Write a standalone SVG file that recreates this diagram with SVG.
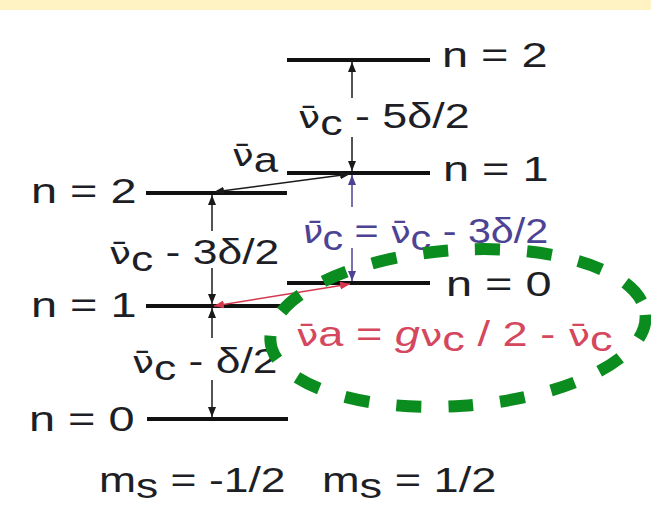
<svg xmlns="http://www.w3.org/2000/svg" width="651" height="523" viewBox="0 0 651 523">
<style>
  text { font-family: "Liberation Sans", Arial, sans-serif; font-size: 35px; fill: #1e1f26; }
  .nu { font-family: "DejaVu Sans", "Liberation Sans", sans-serif; font-size: 31px; }
  .purple { fill: #4d4394; }
  .red { fill: #d4475d; }
  .level { stroke: #111; stroke-width: 4; fill: none; }
  .arr { stroke: #1a1a1a; stroke-width: 1.5; fill: none; }
  .arrP { stroke: #4d4394; stroke-width: 1.5; fill: none; }
  .arrR { stroke: #d4384e; stroke-width: 1.5; fill: none; }
</style>
<defs>
  <marker id="ah" viewBox="0 0 10 8" refX="10" refY="4" markerWidth="10" markerHeight="8" markerUnits="userSpaceOnUse" orient="auto-start-reverse">
    <path d="M0,0 L10,4 L0,8 Z" fill="#1a1a1a"/>
  </marker>
  <marker id="ahP" viewBox="0 0 10 8" refX="10" refY="4" markerWidth="10" markerHeight="8" markerUnits="userSpaceOnUse" orient="auto-start-reverse">
    <path d="M0,0 L10,4 L0,8 Z" fill="#4d4394"/>
  </marker>
  <marker id="ahR" viewBox="0 0 10 8" refX="10" refY="4" markerWidth="10" markerHeight="8" markerUnits="userSpaceOnUse" orient="auto-start-reverse">
    <path d="M0,0 L10,4 L0,8 Z" fill="#d4384e"/>
  </marker>
</defs>
<rect x="0" y="0" width="651" height="523" fill="#ffffff"/>
<rect x="0" y="0" width="651" height="10" fill="#fff3c4"/>

<!-- right column levels (ms = 1/2) -->
<g id="right-n2">
  <line class="level" x1="287" y1="60" x2="430" y2="60"/>
  <text transform="translate(442,67) scale(1.34,1)">n = 2</text>
</g>
<g id="right-n1">
  <line class="level" x1="287" y1="173" x2="430" y2="173"/>
  <text transform="translate(443,181) scale(1.34,1)">n = 1</text>
</g>
<g id="right-n0">
  <line class="level" x1="287" y1="283" x2="430" y2="283"/>
  <text transform="translate(446,296) scale(1.34,1)">n = 0</text>
</g>

<!-- left column levels (ms = -1/2) -->
<g id="left-n2">
  <line class="level" x1="146" y1="193" x2="287" y2="193"/>
  <text transform="translate(31,203) scale(1.34,1)">n = 2</text>
</g>
<g id="left-n1">
  <line class="level" x1="146" y1="306" x2="287" y2="306"/>
  <text transform="translate(31,317) scale(1.34,1)">n = 1</text>
</g>
<g id="left-n0">
  <line class="level" x1="147" y1="419" x2="288" y2="419"/>
  <text transform="translate(29,431) scale(1.34,1)">n = 0</text>
</g>

<!-- connectors -->
<g id="connectors">
  <line class="arr" x1="352" y1="98" x2="352" y2="62" marker-end="url(#ah)"/>
  <line class="arr" x1="352" y1="137" x2="352" y2="171" marker-end="url(#ah)"/>
  <line class="arrP" x1="352" y1="207" x2="352" y2="175" marker-end="url(#ahP)"/>
  <line class="arrP" x1="352" y1="248" x2="352" y2="281" marker-end="url(#ahP)"/>
  <line class="arr" x1="212" y1="231" x2="212" y2="195" marker-end="url(#ah)"/>
  <line class="arr" x1="212" y1="268" x2="212" y2="304" marker-end="url(#ah)"/>
  <line class="arr" x1="212" y1="338" x2="212" y2="308" marker-end="url(#ah)"/>
  <line class="arr" x1="212" y1="380" x2="212" y2="417" marker-end="url(#ah)"/>
  <line class="arr" x1="214" y1="192" x2="350" y2="174" marker-start="url(#ah)" marker-end="url(#ah)"/>
  <line class="arrR" x1="214" y1="306" x2="350" y2="284" marker-start="url(#ahR)" marker-end="url(#ahR)"/>
</g>

<!-- transition labels -->
<g id="label-5d">
  <text transform="translate(298,128) scale(1.28,1)"><tspan class="nu">ν̄</tspan><tspan dy="7">c</tspan><tspan dy="-7"> - 5δ/2</tspan></text>
</g>
<g id="label-va">
  <text transform="translate(232,166) scale(1.25,1)"><tspan class="nu">ν̄</tspan><tspan dy="6">a</tspan></text>
</g>
<g id="label-3d">
  <text transform="translate(109,264) scale(1.27,1)"><tspan class="nu">ν̄</tspan><tspan dy="7">c</tspan><tspan dy="-7"> - 3δ/2</tspan></text>
</g>
<g id="label-d">
  <text transform="translate(132,373) scale(1.27,1)"><tspan class="nu">ν̄</tspan><tspan dy="7">c</tspan><tspan dy="-7"> - δ/2</tspan></text>
</g>
<g id="label-purple">
  <text class="purple" transform="translate(302,243) scale(1.18,1)"><tspan class="nu purple" font-style="italic">ν̄</tspan><tspan dy="7">c</tspan><tspan dy="-7"> = </tspan><tspan class="nu purple">ν̄</tspan><tspan dy="7">c</tspan><tspan dy="-7"> - 3δ/2</tspan></text>
</g>
<g id="label-red">
  <text class="red" transform="translate(296,346) scale(1.29,1)"><tspan class="nu red">ν̄</tspan><tspan>a = </tspan><tspan font-style="italic">g</tspan><tspan class="nu red">ν</tspan><tspan dy="5">c</tspan><tspan dy="-5"> / 2 - </tspan><tspan class="nu red">ν̄</tspan><tspan dy="5">c</tspan></text>
</g>

<!-- highlight ellipse -->
<ellipse cx="458" cy="328" rx="188" ry="78" transform="rotate(-4 458 328)" fill="none" stroke="#0a8c1e" stroke-width="12" stroke-dasharray="25 27"/>

<!-- spin labels -->
<g id="ms-labels">
  <text transform="translate(99,492) scale(1.27,1)">m<tspan dy="6">s</tspan><tspan dy="-6"> = -1/2</tspan></text>
  <text transform="translate(322,492) scale(1.29,1)">m<tspan dy="6">s</tspan><tspan dy="-6"> = 1/2</tspan></text>
</g>
</svg>
